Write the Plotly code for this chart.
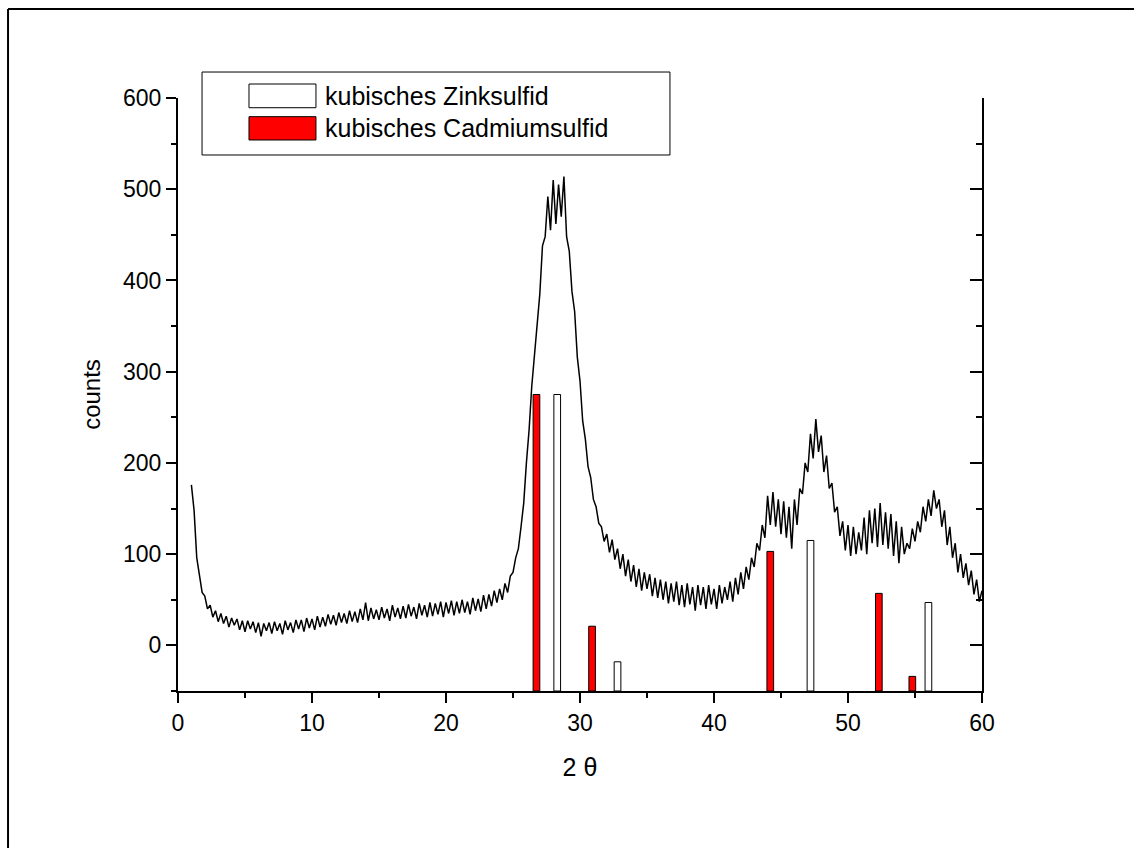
import numpy as np
import plotly.graph_objects as go

# Diffractogram: 2-theta grid in 0.2 degree steps, 1.0 .. 60.0
two_theta = np.round(np.arange(1.0, 60.0001, 0.2), 1)

# measured counts, 1.0 .. 24.8
counts_low = [
    176, 148, 96, 78, 58, 54, 40, 44, 31, 38,
    26, 35, 24, 32, 20, 30, 22, 29, 17, 27,
    15, 27, 18, 26, 14, 25, 10, 24, 16, 25,
    13, 26, 16, 24, 12, 27, 17, 25, 14, 28,
    18, 28, 15, 30, 19, 29, 17, 32, 20, 31,
    21, 34, 23, 33, 22, 36, 25, 35, 24, 38,
    26, 37, 25, 40, 28, 47, 27, 41, 29, 39,
    28, 42, 30, 40, 27, 44, 31, 41, 29, 43,
    30, 45, 32, 42, 29, 46, 33, 44, 31, 47,
    32, 46, 34, 48, 31, 47, 35, 49, 33, 48,
    35, 50, 36, 48, 34, 52, 38, 51, 37, 55,
    40, 56, 43, 60, 47, 62, 50, 68, 58, 76,
]
# 25.0 .. 40.8 (main reflex)
counts_main = [
    80, 96, 106, 130, 156, 200, 236, 284, 316, 354,
    385, 438, 448, 492, 455, 510, 462, 505, 470, 514,
    448, 432, 388, 366, 316, 290, 246, 226, 196, 184,
    160, 152, 134, 130, 114, 122, 102, 116, 94, 106,
    84, 100, 76, 94, 70, 88, 64, 84, 60, 80,
    62, 78, 54, 74, 52, 72, 50, 70, 46, 68,
    48, 70, 44, 66, 42, 68, 45, 64, 38, 66,
    44, 64, 40, 66, 45, 62, 40, 66, 46, 64,
]
# 41.0 .. 60.0
counts_high = [
    50, 70, 48, 74, 56, 80, 62, 86, 72, 96,
    86, 112, 104, 132, 118, 164, 132, 168, 130, 160,
    122, 158, 118, 152, 106, 160, 132, 172, 166, 200,
    190, 232, 205, 248, 212, 230, 190, 208, 172, 178,
    146, 152, 120, 136, 104, 132, 98, 130, 100, 124,
    104, 140, 100, 148, 112, 150, 108, 156, 110, 146,
    106, 144, 98, 136, 90, 130, 100, 112, 106, 128,
    114, 136, 124, 152, 136, 160, 142, 170, 150, 160,
    130, 148, 110, 130, 96, 112, 80, 100, 74, 90,
    66, 82, 56, 72, 48, 60,
]
counts = counts_low + counts_main + counts_high

# Reference reflexes (position in 2 theta, top of the stick in counts)
zns_pos = [28.3, 32.8, 47.2, 56.0]
zns_top = [275, -18, 115, 47]
cds_pos = [26.75, 30.9, 44.2, 52.3, 54.8]
cds_top = [275, 21, 103, 57, -34]

BASE = -50
FONT = "Liberation Sans, Arial, sans-serif"

fig = go.Figure()

fig.add_trace(go.Bar(
    x=cds_pos, y=[t - BASE for t in cds_top], base=BASE, width=0.5,
    marker=dict(color="#ff0000", line=dict(color="black", width=1)),
    name="kubisches Cadmiumsulfid", showlegend=False,
))
fig.add_trace(go.Bar(
    x=zns_pos, y=[t - BASE for t in zns_top], base=BASE, width=0.5,
    marker=dict(color="white", line=dict(color="black", width=1)),
    name="kubisches Zinksulfid", showlegend=False,
))
fig.add_trace(go.Scatter(
    x=two_theta, y=counts, mode="lines",
    line=dict(color="black", width=1.5),
    showlegend=False,
))
# invisible companion trace so the right-hand axis is drawn
fig.add_trace(go.Scatter(x=[0], y=[0], yaxis="y2", mode="markers",
                         marker=dict(opacity=0), showlegend=False,
                         hoverinfo="skip"))

axis_common = dict(
    showline=True, linecolor="black", linewidth=2,
    showgrid=False, zeroline=False,
    tickcolor="black", tickwidth=2,
    tickfont=dict(family=FONT, size=23, color="black"),
)

fig.update_layout(
    width=1134, height=848,
    margin=dict(l=178, r=152, t=98, b=157),
    paper_bgcolor="white", plot_bgcolor="white",
    barmode="overlay",
    font=dict(family=FONT, color="black"),
    xaxis=dict(
        range=[0, 60], tick0=0, dtick=10, ticks="outside", ticklen=10,
        minor=dict(ticks="outside", ticklen=5, dtick=5, tick0=0,
                   tickcolor="black", tickwidth=2),
        title=dict(text="2 θ", font=dict(family=FONT, size=25), standoff=24),
        **axis_common,
    ),
    yaxis=dict(
        range=[-50, 600], tick0=0, dtick=100, ticks="outside", ticklen=10,
        minor=dict(ticks="outside", ticklen=5, dtick=50, tick0=0,
                   tickcolor="black", tickwidth=2),
        title=dict(text="counts", font=dict(family=FONT, size=24), standoff=16),
        **axis_common,
    ),
    yaxis2=dict(
        range=[-50, 600], overlaying="y", side="right",
        tick0=0, dtick=100, ticks="inside", ticklen=12,
        minor=dict(ticks="inside", ticklen=6, dtick=50, tick0=0,
                   tickcolor="black", tickwidth=2),
        showticklabels=False,
        **axis_common,
    ),
)

# figure frame (left and top edges)
fig.add_shape(type="line", xref="paper", yref="paper",
              x0=-0.2114, y0=1.1501, x1=1.19, y1=1.1501,
              line=dict(color="black", width=2))
fig.add_shape(type="line", xref="paper", yref="paper",
              x0=-0.2114, y0=1.1501, x1=-0.2114, y1=-0.27,
              line=dict(color="black", width=2))

# legend box with wide swatches
fig.add_shape(type="rect", xref="paper", yref="paper",
              x0=0.0299, y0=0.9039, x1=0.6119, y1=1.0438,
              line=dict(color="black", width=1), fillcolor="white")
legend_rows = [
    ("kubisches Zinksulfid", "white", 1.0236, 0.9836, 1.0034),
    ("kubisches Cadmiumsulfid", "#ff0000", 0.9685, 0.9292, 0.9486),
]
for label, colour, top, bottom, mid in legend_rows:
    fig.add_shape(type="rect", xref="paper", yref="paper",
                  x0=0.0883, y0=bottom, x1=0.1716, y1=top,
                  line=dict(color="black", width=1), fillcolor=colour)
    fig.add_annotation(xref="paper", yref="paper", x=0.1803, y=mid,
                       text=label, showarrow=False, xanchor="left",
                       yanchor="middle",
                       font=dict(family=FONT, size=25, color="black"))

fig.write_html("out.html")
